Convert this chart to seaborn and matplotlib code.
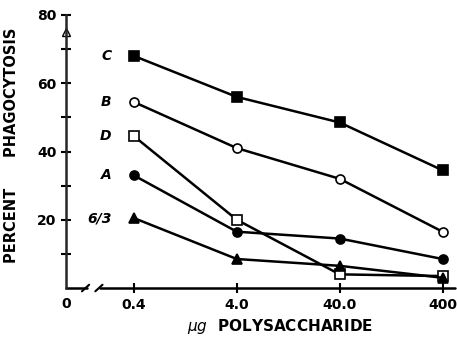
import numpy as np
import matplotlib
matplotlib.use('Agg')
import matplotlib.pyplot as plt
import seaborn as sns

# dose levels (ug polysaccharide) and the percent phagocytosis per strain
doses = ['0.4', '4.0', '40.0', '400']
strain_c = [68, 56, 48.5, 34.5]
strain_b = [54.5, 41, 32, 16.5]
strain_d = [44.5, 20, 4, 3.5]
strain_a = [33, 16.5, 14.5, 8.5]
strain_613 = [20.5, 8.5, 6.5, 3]
control_value = 75

series = [
    ('C', strain_c, 's', 'black'),
    ('B', strain_b, 'o', 'white'),
    ('D', strain_d, 's', 'white'),
    ('A', strain_a, 'o', 'black'),
    ('6/3', strain_613, '^', 'black'),
]

sns.set_style('ticks')
plt.rcParams['font.family'] = ['DejaVu Sans']
plt.rcParams['text.color'] = 'black'
plt.rcParams['axes.labelcolor'] = 'black'

fig = plt.figure(figsize=(4.57, 3.43), dpi=100)
ax = fig.add_axes([0.1444, 0.1603, 0.851, 0.796])

pos = np.arange(len(doses))
zero_pos = -0.66

for name, vals, mk, fc in series:
    sns.lineplot(x=pos, y=vals, ax=ax, color='black', linewidth=1.8,
                 marker=mk, markersize=6.5, markerfacecolor=fc,
                 markeredgecolor='black', markeredgewidth=1.2, legend=False)
    ax.text(-0.22, vals[0], name, ha='right', va='center', fontsize=10,
            fontweight='bold', fontstyle='italic')

# open triangle for the zero-dose control on the axis
ax.plot([zero_pos], [control_value], marker='^', markersize=6,
        markerfacecolor='white', markeredgecolor='black', clip_on=False)

ax.set_xlim(zero_pos, 3.12)
ax.set_ylim(0, 80)
ax.set_yticks([10, 20, 30, 40, 50, 60, 70, 80])
ax.set_yticklabels(['', '20', '', '40', '', '60', '', '80'])
ax.set_xticks(pos)
ax.set_xticklabels(doses)
ax.tick_params(axis='both', direction='inout', length=7, width=1.5,
               labelsize=10, colors='black')
for lab in ax.get_xticklabels() + ax.get_yticklabels():
    lab.set_fontweight('bold')

ax.spines['top'].set_visible(False)
ax.spines['right'].set_visible(False)
ax.spines['left'].set_linewidth(1.8)
ax.spines['bottom'].set_visible(False)

# broken x axis
trans = ax.get_xaxis_transform()
ax.plot([zero_pos, -0.46], [0, 0], color='black', lw=1.8, transform=trans, clip_on=False)
ax.plot([-0.33, 3.12], [0, 0], color='black', lw=1.8, transform=trans, clip_on=False)
for bx in (-0.47, -0.34):
    ax.plot([bx - 0.035, bx + 0.035], [-0.012, 0.012], color='black', lw=1.5,
            transform=trans, clip_on=False)

ax.text(zero_pos, -0.033, '0', transform=trans, ha='center', va='top',
        fontsize=10, fontweight='bold')

fig.text(0.026, 0.577, 'PERCENT      PHAGOCYTOSIS', rotation=90, ha='center',
         va='center', fontsize=10.5, fontweight='bold')
fig.text(0.613, 0.047, r'$\mu g$  POLYSACCHARIDE', ha='center', va='center',
         fontsize=11, fontweight='bold')

fig.savefig('out.png', dpi=100)
